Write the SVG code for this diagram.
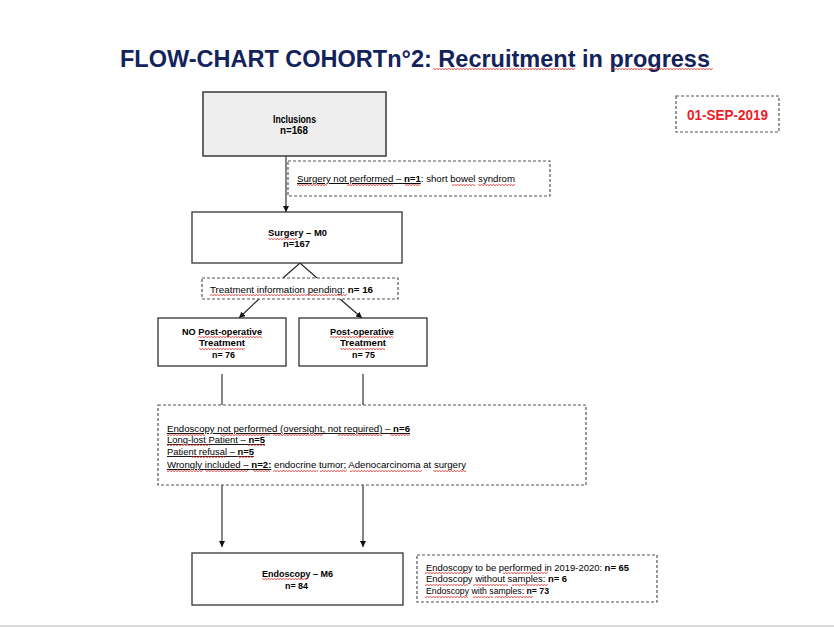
<svg xmlns="http://www.w3.org/2000/svg" width="834" height="627" viewBox="0 0 834 627">
<defs>
<style>
text{font-family:"Liberation Sans",Arial,sans-serif;fill:#000;}
.t{font-size:9.5px;}
.s{font-size:9px;}
.r{font-size:8.6px;}
.b{font-weight:bold;}
.box{fill:#fff;stroke:#333;stroke-width:1.3;}
.dash{fill:#fff;stroke:#555;stroke-width:1.2;stroke-dasharray:3 2;}
.ln{stroke:#222;stroke-width:1.1;fill:none;}
.ul{text-decoration:underline;}
.wv{fill:url(#wave);}
</style>
<pattern id="wave" patternUnits="userSpaceOnUse" width="3" height="2">
<path d="M0,1.6 L1.5,0.4 L3,1.6" fill="none" stroke="#e2302b" stroke-width="0.9"/>
</pattern>
<marker id="arr" markerWidth="6" markerHeight="6" refX="6" refY="3" orient="auto" markerUnits="userSpaceOnUse">
<path d="M0,0 L6,3 L0,6 Z" fill="#111"/>
</marker>
</defs>
<rect width="834" height="627" fill="#fff"/>
<line x1="0" y1="626" x2="834" y2="626" stroke="#d0d0d0" stroke-width="1.5"/>

<g id="title">
<text x="120" y="67" font-size="24" font-weight="bold" style="fill:#13235b" textLength="590" lengthAdjust="spacingAndGlyphs">FLOW-CHART COHORTn°2: Recruitment in progress</text>
</g>

<g id="date">
<rect class="dash" x="676" y="96" width="103" height="36"/>
<text x="687" y="120" font-size="14" font-weight="bold" style="fill:#ee1c25" textLength="81" lengthAdjust="spacingAndGlyphs">01-SEP-2019</text>
</g>

<g id="connectors">
<line class="ln" x1="286" y1="156" x2="286" y2="212" marker-end="url(#arr)"/>
<polyline class="ln" points="283,278 300,263 317,278"/>
<line class="ln" x1="259" y1="299" x2="239" y2="318" marker-end="url(#arr)"/>
<line class="ln" x1="340" y1="299" x2="362" y2="318" marker-end="url(#arr)"/>
<line class="ln" x1="222" y1="374" x2="222" y2="405"/>
<line class="ln" x1="363" y1="374" x2="363" y2="405"/>
<line class="ln" x1="222" y1="485" x2="222" y2="547" marker-end="url(#arr)"/>
<line class="ln" x1="363" y1="485" x2="363" y2="547" marker-end="url(#arr)"/>
</g>

<g id="inclusions">
<rect x="203" y="92" width="183" height="64" fill="#eeeeee" stroke="#444" stroke-width="1.6"/>
<text class="b" x="273" y="123" font-size="10" textLength="43" lengthAdjust="spacingAndGlyphs">Inclusions</text>
<text class="b" x="280" y="134" font-size="10" textLength="28" lengthAdjust="spacingAndGlyphs">n=168</text>
</g>

<g id="surgery-not-performed">
<rect class="dash" x="288" y="161" width="262" height="35"/>
<text class="t" x="297" y="182" textLength="218" lengthAdjust="spacingAndGlyphs"><tspan class="ul">Surgery not performed – <tspan class="b">n=1</tspan></tspan>: short bowel syndrom</text>
</g>

<g id="surgery">
<rect class="box" x="192" y="212" width="210" height="51"/>
<text class="t b" x="268" y="236" textLength="59" lengthAdjust="spacingAndGlyphs">Surgery – M0</text>
<text class="t b" x="283" y="247" textLength="27" lengthAdjust="spacingAndGlyphs">n=167</text>
</g>

<g id="pending">
<rect class="dash" x="202" y="278" width="196" height="21"/>
<text class="t" x="210" y="293" textLength="163" lengthAdjust="spacingAndGlyphs">Treatment information pending: <tspan class="b">n= 16</tspan></text>
</g>

<g id="no-treatment">
<rect class="box" x="158" y="318" width="128" height="48"/>
<text class="t b" x="182" y="335" textLength="80" lengthAdjust="spacingAndGlyphs">NO Post-operative</text>
<text class="t b" x="199" y="346" textLength="46" lengthAdjust="spacingAndGlyphs">Treatment</text>
<text class="t b" x="212" y="358" textLength="23" lengthAdjust="spacingAndGlyphs">n= 76</text>
</g>

<g id="treatment">
<rect class="box" x="299" y="318" width="128" height="48"/>
<text class="t b" x="330" y="335" textLength="64" lengthAdjust="spacingAndGlyphs">Post-operative</text>
<text class="t b" x="340" y="346" textLength="46" lengthAdjust="spacingAndGlyphs">Treatment</text>
<text class="t b" x="352" y="358" textLength="23" lengthAdjust="spacingAndGlyphs">n= 75</text>
</g>

<g id="exclusions">
<rect class="dash" x="158" y="405" width="428" height="80"/>
<text class="s" x="167" y="432" textLength="243" lengthAdjust="spacingAndGlyphs"><tspan class="ul">Endoscopy not performed (oversight, not required) – <tspan class="b">n=6</tspan></tspan></text>
<text class="s" x="167" y="443" textLength="98" lengthAdjust="spacingAndGlyphs"><tspan class="ul">Long-lost Patient – <tspan class="b">n=5</tspan></tspan></text>
<text class="s" x="167" y="455" textLength="87" lengthAdjust="spacingAndGlyphs"><tspan class="ul">Patient refusal – <tspan class="b">n=5</tspan></tspan></text>
<text class="s" x="167" y="468" textLength="299" lengthAdjust="spacingAndGlyphs"><tspan class="ul">Wrongly included – <tspan class="b">n=2:</tspan></tspan> endocrine tumor; Adenocarcinoma at surgery</text>
</g>

<g id="endoscopy">
<rect class="box" x="192" y="553" width="211" height="52"/>
<text class="t b" x="262" y="577" textLength="71" lengthAdjust="spacingAndGlyphs">Endoscopy – M6</text>
<text class="t b" x="285" y="589" textLength="23" lengthAdjust="spacingAndGlyphs">n= 84</text>
</g>

<g id="endoscopy-details">
<rect class="dash" x="417" y="555" width="240" height="47"/>
<text class="r" x="426" y="570.5" textLength="203" lengthAdjust="spacingAndGlyphs">Endoscopy to be performed in 2019-2020: <tspan class="b">n= 65</tspan></text>
<text class="r" x="426" y="581.5" textLength="141" lengthAdjust="spacingAndGlyphs">Endoscopy without samples: <tspan class="b">n= 6</tspan></text>
<text class="r" x="426" y="594" textLength="123" lengthAdjust="spacingAndGlyphs">Endoscopy with samples: <tspan class="b">n= 73</tspan></text>
</g>

<g id="spellcheck-marks">
<rect class="wv" x="433" y="68" width="142" height="2"/>
<rect class="wv" x="612" y="68" width="101" height="2"/>
<rect class="wv" x="297" y="184" width="30" height="2"/>
<rect class="wv" x="347" y="184" width="46" height="2"/>
<rect class="wv" x="405" y="184" width="15" height="2"/>
<rect class="wv" x="452" y="184" width="23" height="2"/>
<rect class="wv" x="478" y="184" width="37" height="2"/>
<rect class="wv" x="268" y="238" width="29" height="2"/>
<rect class="wv" x="210" y="294" width="137" height="2"/>
<rect class="wv" x="198" y="336" width="64" height="2"/>
<rect class="wv" x="199" y="348" width="46" height="2"/>
<rect class="wv" x="330" y="336" width="63" height="2"/>
<rect class="wv" x="340" y="348" width="45" height="2"/>
<rect class="wv" x="167" y="434" width="38" height="2"/>
<rect class="wv" x="220" y="434" width="50" height="2"/>
<rect class="wv" x="273" y="434" width="50" height="2"/>
<rect class="wv" x="338" y="434" width="44" height="2"/>
<rect class="wv" x="390" y="434" width="20" height="2"/>
<rect class="wv" x="167" y="444" width="43" height="2"/>
<rect class="wv" x="248" y="444" width="17" height="2"/>
<rect class="wv" x="192" y="456" width="33" height="2"/>
<rect class="wv" x="238" y="456" width="16" height="2"/>
<rect class="wv" x="167" y="470" width="36" height="2"/>
<rect class="wv" x="205" y="470" width="43" height="2"/>
<rect class="wv" x="253" y="470" width="17" height="2"/>
<rect class="wv" x="273" y="470" width="45" height="2"/>
<rect class="wv" x="320" y="470" width="27" height="2"/>
<rect class="wv" x="350" y="470" width="72" height="2"/>
<rect class="wv" x="433" y="470" width="33" height="2"/>
<rect class="wv" x="262" y="578" width="46" height="2"/>
<rect class="wv" x="425" y="572" width="43" height="2"/>
<rect class="wv" x="503" y="572" width="45" height="2"/>
<rect class="wv" x="425" y="584" width="43" height="2"/>
<rect class="wv" x="473" y="584" width="35" height="2"/>
<rect class="wv" x="512" y="584" width="36" height="2"/>
<rect class="wv" x="425" y="596" width="43" height="2"/>
<rect class="wv" x="473" y="596" width="20" height="2"/>
<rect class="wv" x="495" y="596" width="38" height="2"/>
</g>
</svg>
